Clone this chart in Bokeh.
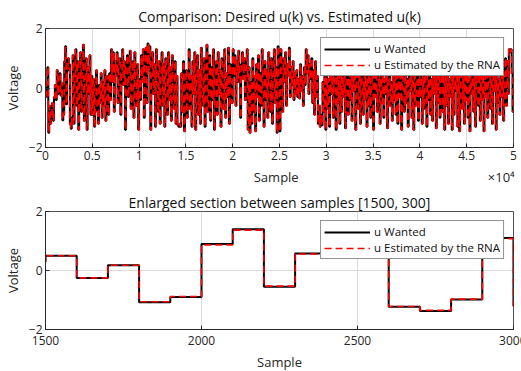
from bokeh.plotting import figure
from bokeh.layouts import column
from bokeh.models import FixedTicker, Legend, LegendItem, ColumnDataSource, Range1d
from bokeh.embed import file_html
from bokeh.resources import INLINE

STEP = 100  # samples per held value

u_wanted = [
    -0.3, 0.1, 0.7, -1.5, -0.6, -1.2, -0.9, -0.5, -1.1, -0.3, 0.1, -0.4, 0.6, -0.2, 0.3, 0.5, -0.25, 0.18, -1.08, -0.9, 0.9, 1.4, -0.55, 0.58, 1.0,
    0.8, -1.23, -1.37, -0.98, 1.1, -1.2, 0.4, 1.3, -0.6, 0.9, -1.4, 0.2, 1.2, -0.8, 0.5, 1.45, -1.1, 0.3, 1.0, -1.4, 0.7, -0.2, 1.1, -0.9, 0.4,
    -0.9, 0.3, -1.3, -0.2, 0.6, -0.8, -1.2, 0.1, -0.5, 0.5, -1.0, 0.2, -0.6, 0.6, -1.1, -0.3, 0.4, -0.9, 0.5, -0.4, 1.3, 0.2, 1.2, -0.8, 0.9,
    0.4, 1.2, -0.5, 0.8, 1.0, -0.9, 0.6, 1.3, 0.1, 0.9, -1.4, 0.7, 1.1, -0.3, 0.5, 1.25, -0.7, 0.3, 0.9, -1.0, 1.2, 0.2, -0.6, 0.8, -1.4,
    0.3, -0.4, 1.1, 0.2, 1.3, -1.0, 0.9, 1.35, -0.5, 1.5, 0.6, 1.4, -1.4, 0.4, 1.2, -0.2, 0.8, -1.3, 1.3, 0.1, -0.8, 0.9, -1.2, 0.5, 1.2,
    -0.6, 0.8, -1.3, 1.0, 0.3, -0.9, 1.2, -0.4, 0.7, -1.1, 1.1, 0.0, -0.7, 0.9, -1.2, 0.4, -1.25, -1.3, -1.2, -1.3, 0.5, -0.8, 0.9, -1.45, 0.2,
    0.6, -1.0, 0.1, 1.3, -0.7, 0.4, -1.3, 0.9, -0.2, 1.2, -1.4, 0.3, 1.1, -0.9, 0.6, -1.2, 1.35, 0.0, -0.6, 1.0, -1.3, 0.5, 1.45, -0.8, 0.2,
    1.1, -1.1, 0.7, -0.4, 1.3, -1.4, 0.3, 0.9, -0.9, 1.2, -0.2, 0.6, -1.3, 1.0, 0.1, -0.7, 1.3, -1.0, 0.5, -0.3, 1.35, -1.2, 0.8, 0.2, -0.5,
    1.3, 0.4, 1.1, -0.6, 0.9, 0.2, 1.25, 0.5, -1.0, 0.8, 1.2, 0.3, 1.0, -0.4, 0.6, 1.3, -1.4, 0.7, -1.5, 0.2, -1.2, 1.0, -0.8, 0.4, -1.45,
    0.8, -0.3, 1.1, -1.1, 0.5, -0.6, 1.3, 0.0, -1.3, 0.9, -0.4, 0.6, -1.0, 1.2, 0.2, -0.8, 1.0, -1.2, 0.4, 1.3, -0.5, 0.7, -1.5, 1.4, 0.3,
    -1.45, 1.3, 0.5, -0.8, 1.0, 0.2, 1.2, -0.6, 0.8, 0.4, 1.35, -0.3, 0.7, 0.1, 0.9, -0.4, 0.5, -0.2, 0.6, -0.3, 0.3, -0.35, 0.8, -0.1, 0.4,
    -0.6, 0.7, 0.1, 1.3, 0.5, 1.1, -0.2, 0.8, 0.3, 1.0, -0.5, 0.6, -0.9, 0.9, -0.3, 0.4, -1.2, -0.6, -1.3, -0.9, -1.25, 0.2, -0.8, 0.6, -1.4,
    0.9, -0.7, 0.3, -1.3, 1.1, -0.2, 0.6, -1.0, 1.2, 0.0, -1.4, 0.8, -0.5, 1.0, -1.2, 0.4, -0.8, 1.3, -0.3, 0.7, -1.35, 0.2, 1.1, -0.9, 0.5,
    -0.4, 1.2, -1.1, 0.6, -0.1, 0.9, -1.4, 0.3, 1.0, -0.7, 0.5, -1.2, 1.3, 0.0, -0.9, 0.8, -0.4, 1.1, -1.3, 0.4, -0.6, 1.2, -1.0, 0.2, 0.9,
    -1.4, 0.6, -0.3, 1.3, -0.8, 0.1, 1.0, -1.2, 0.7, -0.5, 1.2, -1.0, 0.3, -0.2, 0.9, -1.35, 0.5, 1.1, -0.6, 0.2, -1.1, 1.3, -0.4, 0.8, -0.9,
    0.4, -1.2, 1.0, -0.3, 0.6, -1.4, 0.9, 0.0, -0.8, 1.2, -0.5, 0.3, -1.3, 1.1, -0.1, 0.7, -1.0, 0.5, -1.4, 1.3, -0.6, 0.2, 0.9, -1.1, 0.4,
    -0.3, 1.1, -1.2, 0.6, -0.7, 1.0, 0.1, -1.3, 0.8, -0.4, 1.25, -0.9, 0.3, -1.1, 0.9, -0.2, 0.5, -1.35, 1.2, -0.5, 0.7, -1.0, 0.2, 1.0, -0.8,
    0.4, -1.4, 0.8, -0.6, 1.1, -1.2, 0.3, -0.3, 0.9, -1.4, 0.6, -0.9, 1.2, -0.1, 0.5, -1.3, 0.7, -1.45, 0.2, 1.0, -0.7, 0.4, -1.2, 0.9, -0.4,
    1.2, -1.0, 0.3, -1.45, 0.8, -0.2, 1.1, -0.8, 0.5, -1.3, 0.9, 0.0, -0.6, 1.2, -1.1, 0.4, -0.4, 1.0, -1.45, 0.6, -0.3, 0.8, -1.0, 0.2, 1.1,
    -0.7, 0.5, -1.2, 0.9, -0.1, 0.6, -1.4, 1.0, -0.5, 0.3, -0.9, 1.2, -0.3, 0.7, -1.1, 0.4, 1.0, -0.6, 0.9, -0.2, 1.3, 1.2, 1.3, 0.5, -0.8,
]

# estimated values differ only slightly from the wanted ones (visible in the zoom)
u_estimated_changes = {18: -1.06, 19: -0.88, 20: 0.87, 21: 1.37, 22: -0.53, 23: 0.56,
                       26: -1.22, 27: -1.35, 28: -0.97, 29: 1.08}
u_estimated = [u_estimated_changes.get(i, v) for i, v in enumerate(u_wanted)]

top_xticks = [0, 5000, 10000, 15000, 20000, 25000, 30000, 35000, 40000, 45000, 50000]
top_xlabels = ["0", "0.5", "1", "1.5", "2", "2.5", "3", "3.5", "4", "4.5", "5"]
bot_xticks = [1500, 2000, 2500, 3000]
yticks = [-2, 0, 2]

top_title = "Comparison: Desired u(k) vs. Estimated u(k)"
bot_title = "Enlarged section between samples [1500, 300]"
leg_labels = ["u Wanted", "u Estimated by the RNA"]
x_label = "Sample"
exponent_text = "\u00d710\u2074"

xs = [i * STEP for i in range(len(u_wanted) + 1)]
src = ColumnDataSource(dict(x=xs, w=u_wanted + [u_wanted[-1]], e=u_estimated + [u_estimated[-1]]))

FONT = "Open Sans"
AX = "#262626"
NB = "\u00a0"


def make(title, x_start, x_end, xticks, xlabels, height, top_b, bot_b, standoff, lab_so, axl_so):
    p = figure(width=521, height=height, output_backend="svg", toolbar_location=None,
               x_range=Range1d(x_start, x_end), y_range=Range1d(-2, 2),
               frame_width=468, frame_height=height - top_b - bot_b,
               min_border_left=40, min_border_right=13, min_border_top=top_b, min_border_bottom=bot_b)
    p.title.text = title
    p.title.align = "center"
    p.title.text_font = FONT
    p.title.text_font_size = "14px"
    p.title.text_font_style = "normal"
    p.title.text_color = "#111111"
    p.title.offset = 0
    p.title.standoff = standoff
    r1 = p.step("x", "w", source=src, mode="after", line_color="black", line_width=2)
    r2 = p.step("x", "e", source=src, mode="after", line_color="red", line_width=1.6, line_dash="7 4")
    for ax in (p.xaxis[0], p.yaxis[0]):
        ax.axis_line_color = AX
        ax.major_tick_line_color = AX
        ax.major_tick_in = 4
        ax.major_tick_out = 0
        ax.minor_tick_line_color = None
        ax.major_label_text_font = FONT
        ax.major_label_text_font_size = "12px"
        ax.major_label_text_color = AX
        ax.axis_label_text_font = FONT
        ax.axis_label_text_font_size = "13px"
        ax.axis_label_text_font_style = "normal"
        ax.axis_label_text_color = AX
    p.xaxis.ticker = FixedTicker(ticks=xticks)
    if xlabels:
        p.xaxis.major_label_overrides = {t: l for t, l in zip(xticks, xlabels)}
    p.yaxis.ticker = FixedTicker(ticks=yticks)
    p.xaxis.axis_label = x_label
    p.yaxis.axis_label = "Voltage"
    p.xaxis.axis_label_standoff = axl_so
    p.yaxis.axis_label_standoff = 4
    p.xaxis.major_label_standoff = lab_so
    p.yaxis.major_label_standoff = 3
    p.xgrid.grid_line_color = "#dcdcdc"
    p.ygrid.grid_line_color = "#dcdcdc"
    p.outline_line_color = AX
    p.outline_line_alpha = 0.8
    p.background_fill_color = "white"
    p.border_fill_color = "white"
    legend = Legend(items=[LegendItem(label=leg_labels[0], renderers=[r1]),
                           LegendItem(label=leg_labels[1], renderers=[r2])],
                    location="top_right", margin=9, padding=3, spacing=1,
                    glyph_width=46, glyph_height=14, label_height=14, label_standoff=4,
                    label_text_font=FONT, label_text_font_size="11.5px", label_text_color="#111111",
                    border_line_color="#262626", border_line_width=1, background_fill_alpha=1)
    p.add_layout(legend, "center")
    return p


p1 = make(top_title, 0, 50000, top_xticks, top_xlabels, 190, 28, 43, 6, 3, 5)
# the x10^4 multiplier sits at the right end of the x-axis label row (annotations are clipped to the frame)
p1.xaxis.axis_label = NB * 62 + x_label + NB * 56 + exponent_text
p2 = make(bot_title, 1500, 3000, bot_xticks, None, 181, 21, 42, 0, 6, 5)

layout = column(p1, p2, spacing=0)
open("out.html", "w").write(file_html(layout, INLINE))
